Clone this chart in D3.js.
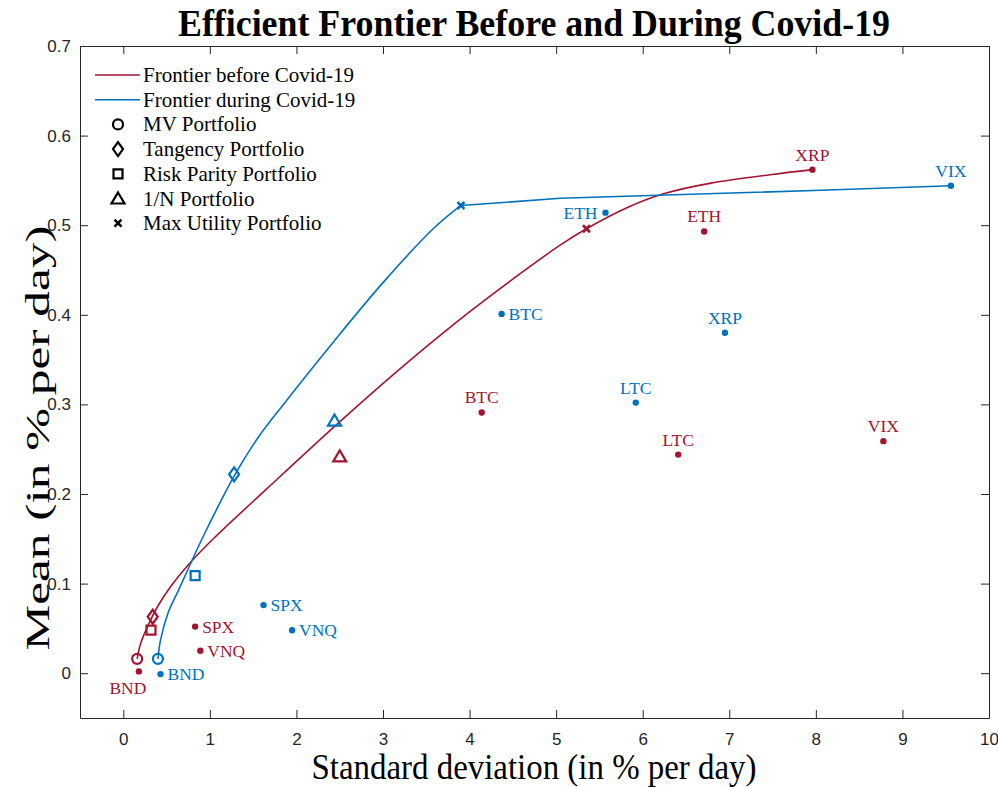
<!DOCTYPE html>
<html>
<head>
<meta charset="utf-8">
<script src="https://cdn.jsdelivr.net/npm/d3@7"></script>
<style>
  body { margin: 0; background: #fff; }
  svg { display: block; }
  .axis path, .axis line { stroke: #262626; }
  .axis text { font-family: "Liberation Sans", Arial, sans-serif; font-size: 17px; fill: #262626; }
</style>
</head>
<body>
<svg id="chart" width="998" height="787"></svg>
<script>
// assets and their (std dev, mean) before / during covid
var assets = ["BND", "SPX", "VNQ", "BTC", "ETH", "LTC", "XRP", "VIX"];
var beforeSd   = [0.18, 0.83, 0.89, 4.14, 6.71, 6.41, 7.96, 8.78];
var beforeMean = [0.002, 0.052, 0.025, 0.291, 0.493, 0.244, 0.562, 0.259];
var duringSd   = [0.43, 1.62, 1.95, 4.37, 5.57, 5.92, 6.95, 9.56];
var duringMean = [-0.001, 0.076, 0.048, 0.401, 0.514, 0.302, 0.380, 0.544];

// frontier curves
var frontierBeforeSd   = [0.16, 0.20, 0.28, 0.40, 0.55, 0.77, 1.04, 1.66, 2.47, 3.20, 4.01, 4.60, 5.05, 5.35, 5.83, 6.24, 6.79, 7.96];
var frontierBeforeMean = [0.016, 0.033, 0.052, 0.075, 0.097, 0.123, 0.150, 0.206, 0.278, 0.340, 0.404, 0.447, 0.478, 0.496, 0.520, 0.535, 0.547, 0.562];
var frontierDuringSd   = [0.40, 0.43, 0.52, 0.64, 0.78, 0.92, 1.10, 1.28, 1.55, 1.85, 2.43, 3.01, 3.58, 3.90, 5.05, 8.06, 9.56];
var frontierDuringMean = [0.016, 0.037, 0.068, 0.093, 0.123, 0.152, 0.187, 0.220, 0.262, 0.300, 0.370, 0.437, 0.496, 0.522, 0.530, 0.539, 0.544];

// portfolios
var portfolios = ["MV Portfolio", "Tangency Portfolio", "Risk Parity Portfolio", "1/N Portfolio", "Max Utility Portfolio"];
var portBeforeSd   = [0.16, 0.34, 0.32, 2.50, 5.35];
var portBeforeMean = [0.016, 0.063, 0.048, 0.242, 0.496];
var portDuringSd   = [0.40, 1.28, 0.83, 2.44, 3.90];
var portDuringMean = [0.016, 0.222, 0.109, 0.282, 0.522];

var xTicks = [0, 1, 2, 3, 4, 5, 6, 7, 8, 9, 10];
var yTicks = [0, 0.1, 0.2, 0.3, 0.4, 0.5, 0.6, 0.7];

var red = "#A2142F", blue = "#0072BD";

// where each asset label sits relative to its dot
var beforeLabelPos = { BND: "belowleft", SPX: "right", VNQ: "right", BTC: "above", ETH: "above", LTC: "above", XRP: "above", VIX: "above" };
var duringLabelPos = { BND: "right", SPX: "right", VNQ: "right", BTC: "right", ETH: "left", LTC: "above", XRP: "above", VIX: "above" };

var svg = d3.select("#chart");
var plotLeft = 80, plotRight = 989, plotTop = 46, plotBottom = 718;

var x = d3.scaleLinear().domain([-0.5, 10]).range([plotLeft, plotRight]);
var y = d3.scaleLinear().domain([-0.05, 0.7]).range([plotBottom, plotTop]);

var yFmt = function(d) { return d === 0 ? "0" : d3.format(".1f")(d); };

svg.append("g").attr("class", "axis")
    .attr("transform", "translate(0," + plotBottom + ")")
    .call(d3.axisBottom(x).tickValues(xTicks).tickFormat(d3.format("d")).tickSizeInner(-8).tickSizeOuter(0).tickPadding(15));
svg.append("g").attr("class", "axis")
    .attr("transform", "translate(" + plotLeft + ",0)")
    .call(d3.axisLeft(y).tickValues(yTicks).tickFormat(yFmt).tickSizeInner(-8).tickSizeOuter(0).tickPadding(9));
svg.append("g").attr("class", "axis")
    .attr("transform", "translate(0," + plotTop + ")")
    .call(d3.axisTop(x).tickValues(xTicks).tickFormat("").tickSizeInner(-8).tickSizeOuter(0));
svg.append("g").attr("class", "axis")
    .attr("transform", "translate(" + plotRight + ",0)")
    .call(d3.axisRight(y).tickValues(yTicks).tickFormat("").tickSizeInner(-8).tickSizeOuter(0));

// title and axis labels
svg.append("text")
    .attr("x", 534).attr("y", 36)
    .attr("text-anchor", "middle")
    .attr("textLength", 712).attr("lengthAdjust", "spacingAndGlyphs")
    .style("font-family", "'Liberation Serif', 'Times New Roman', serif")
    .style("font-weight", "bold").style("font-size", "37px")
    .text("Efficient Frontier Before and During Covid-19");

svg.append("text")
    .attr("x", 534).attr("y", 779)
    .attr("text-anchor", "middle")
    .attr("textLength", 445).attr("lengthAdjust", "spacingAndGlyphs")
    .style("font-family", "'Liberation Serif', 'Times New Roman', serif")
    .style("font-size", "35px")
    .text("Standard deviation (in % per day)");

svg.append("text")
    .attr("transform", "translate(49,438) rotate(-90)")
    .attr("text-anchor", "middle")
    .attr("textLength", 425).attr("lengthAdjust", "spacingAndGlyphs")
    .style("font-family", "'Liberation Serif', 'Times New Roman', serif")
    .style("font-size", "34px")
    .text("Mean (in % per day)");

// frontier lines
var smooth = d3.line().x(function(d) { return x(d[0]); }).y(function(d) { return y(d[1]); }).curve(d3.curveCatmullRom.alpha(0.5));
var straight = d3.line().x(function(d) { return x(d[0]); }).y(function(d) { return y(d[1]); });

svg.append("path")
    .datum(d3.zip(frontierBeforeSd, frontierBeforeMean))
    .attr("d", smooth).attr("fill", "none").attr("stroke", red).attr("stroke-width", 1.6);

// the during frontier bends sharply at the max utility portfolio
var during = d3.zip(frontierDuringSd, frontierDuringMean);
var kink = frontierDuringSd.indexOf(portDuringSd[4]);
svg.append("path")
    .datum(during.slice(0, kink + 1))
    .attr("d", smooth).attr("fill", "none").attr("stroke", blue).attr("stroke-width", 1.6);
svg.append("path")
    .datum(during.slice(kink))
    .attr("d", straight).attr("fill", "none").attr("stroke", blue).attr("stroke-width", 1.6);

// marker shapes, index matches portfolios
function markerPath(i) {
  if (i === 0) return "M5,0A5,5 0 1,1 -5,0A5,5 0 1,1 5,0Z";
  if (i === 1) return "M0,-7L5,0L0,7L-5,0Z";
  if (i === 2) return "M-4.5,-4.5L4.5,-4.5L4.5,4.5L-4.5,4.5Z";
  if (i === 3) return "M0,-6L6.5,5L-6.5,5Z";
  return "M-3.5,-3.5L3.5,3.5M3.5,-3.5L-3.5,3.5";
}

function drawSeries(sd, mean, pSd, pMean, color, labelPos) {
  var g = svg.append("g");
  var pts = assets.map(function(a, i) { return { name: a, sd: sd[i], mean: mean[i] }; });
  g.selectAll("circle.dot").data(pts).enter().append("circle")
      .attr("class", "dot")
      .attr("cx", function(d) { return x(d.sd); })
      .attr("cy", function(d) { return y(d.mean); })
      .attr("r", 3.2).attr("fill", color);

  g.selectAll("text.lbl").data(pts).enter().append("text")
      .attr("class", "lbl")
      .attr("x", function(d) {
        var p = labelPos[d.name], cx = x(d.sd);
        if (p === "right") return cx + 7;
        if (p === "left") return cx - 8;
        if (p === "belowleft") return cx - 11;
        return cx;
      })
      .attr("y", function(d) {
        var p = labelPos[d.name], cy = y(d.mean);
        if (p === "above") return cy - 9;
        if (p === "belowleft") return cy + 23;
        return cy + 6;
      })
      .attr("text-anchor", function(d) {
        var p = labelPos[d.name];
        return p === "right" ? "start" : p === "left" ? "end" : "middle";
      })
      .style("font-family", "'Liberation Serif', 'Times New Roman', serif")
      .style("font-size", "17.5px")
      .attr("fill", color)
      .text(function(d) { return d.name; });

  var ps = portfolios.map(function(p, i) { return { i: i, sd: pSd[i], mean: pMean[i] }; });
  g.selectAll("path.pf").data(ps).enter().append("path")
      .attr("class", "pf")
      .attr("transform", function(d) { return "translate(" + x(d.sd) + "," + y(d.mean) + ")"; })
      .attr("d", function(d) { return markerPath(d.i); })
      .attr("fill", "none").attr("stroke", color)
      .attr("stroke-width", function(d) { return d.i === 4 ? 2.6 : 2.2; });
}

drawSeries(beforeSd, beforeMean, portBeforeSd, portBeforeMean, red, beforeLabelPos);
drawSeries(duringSd, duringMean, portDuringSd, portDuringMean, blue, duringLabelPos);

// legend
var legend = svg.append("g").attr("transform", "translate(95,75)");
var legendItems = ["Frontier before Covid-19", "Frontier during Covid-19"].concat(portfolios);
legendItems.forEach(function(name, i) {
  var ly = i * 24.7;
  if (i < 2) {
    legend.append("line").attr("x1", 0).attr("x2", 45).attr("y1", ly).attr("y2", ly)
        .attr("stroke", i === 0 ? red : blue).attr("stroke-width", 1.6);
  } else {
    legend.append("path")
        .attr("transform", "translate(23," + ly + ")")
        .attr("d", markerPath(i - 2))
        .attr("fill", "none").attr("stroke", "#000")
        .attr("stroke-width", i === 6 ? 2.6 : 2.2);
  }
  legend.append("text")
      .attr("x", 48).attr("y", ly + 7)
      .style("font-family", "'Liberation Serif', 'Times New Roman', serif")
      .style("font-size", "21px")
      .attr("fill", "#000")
      .text(name);
});
</script>
</body>
</html>
